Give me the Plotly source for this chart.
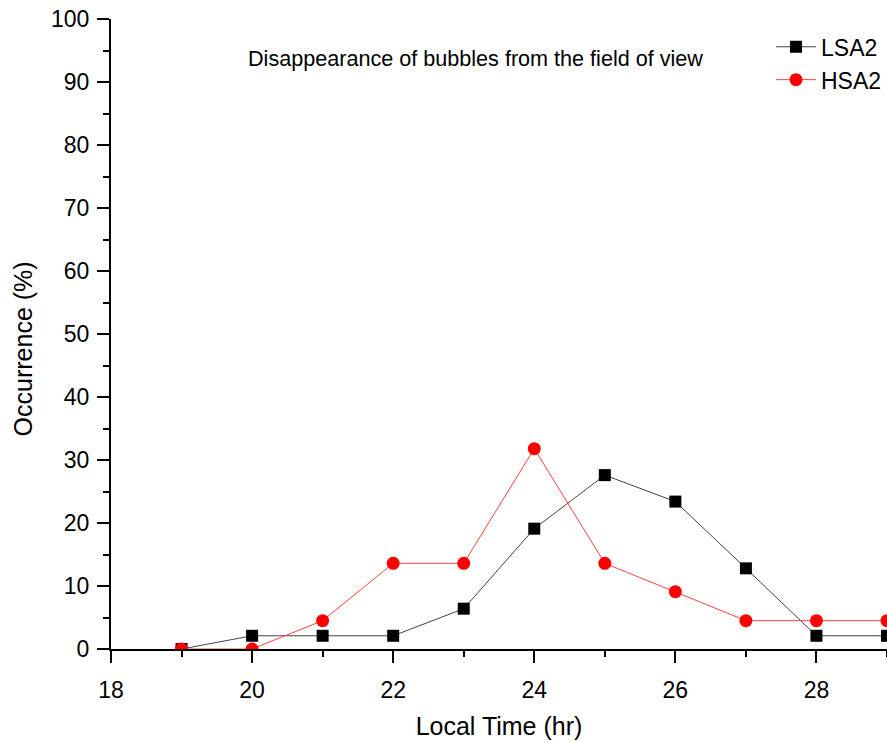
import plotly.graph_objects as go

# ── DATA ──────────────────────────────────────────────
local_time = [19, 20, 21, 22, 23, 24, 25, 26, 27, 28, 29]
lsa2 = [0, 2.1, 2.1, 2.1, 6.4, 19.1, 27.6, 23.4, 12.8, 2.1, 2.1]
hsa2 = [0, 0, 4.5, 13.6, 13.6, 31.8, 13.6, 9.1, 4.5, 4.5, 4.5]

FONT = "Liberation Sans, Arial, sans-serif"

fig = go.Figure()

fig.add_trace(go.Scatter(
    x=local_time, y=lsa2, name="LSA2", mode="lines+markers",
    line=dict(color="#444444", width=1),
    marker=dict(symbol="square", size=12, color="black"),
))
fig.add_trace(go.Scatter(
    x=local_time, y=hsa2, name="HSA2", mode="lines+markers",
    line=dict(color="#ff4040", width=1),
    marker=dict(symbol="circle", size=13, color="red"),
))

fig.add_annotation(
    text="Disappearance of bubbles from the field of view",
    xref="paper", yref="paper", x=0.47, y=0.937,
    xanchor="center", yanchor="middle", showarrow=False,
    font=dict(family=FONT, size=21.6, color="black"),
)

# y title as annotation: sits a little below the plot centre in the original
fig.add_annotation(
    text="Occurrence (%)", textangle=-90,
    xref="paper", yref="paper", x=-0.113, y=0.476,
    xanchor="center", yanchor="middle", showarrow=False,
    font=dict(family=FONT, size=25, color="black"),
)

axis_common = dict(
    showline=True, linecolor="black", linewidth=2,
    ticks="outside", ticklen=12, tickwidth=2, tickcolor="black",
    showgrid=False, zeroline=False, automargin=False,
    tickfont=dict(family=FONT, size=23, color="black"),
)

fig.update_xaxes(
    range=[18, 29], dtick=2, tick0=18,
    minor=dict(ticks="outside", ticklen=6, tickwidth=2, tickcolor="black", dtick=1),
    title=dict(text="Local Time (hr)", font=dict(family=FONT, size=25, color="black"), standoff=16),
    ticklabelstandoff=7,
    **axis_common,
)
fig.update_yaxes(
    range=[0, 100], dtick=10,
    minor=dict(ticks="outside", ticklen=6, tickwidth=2, tickcolor="black", dtick=5),
    ticklabelstandoff=3,
    **axis_common,
)

fig.update_layout(
    width=887, height=742,
    margin=dict(l=111, r=0, t=19, b=93),
    plot_bgcolor="white", paper_bgcolor="white",
    legend=dict(
        x=1.0, y=0.99, xanchor="right", yanchor="top",
        font=dict(family=FONT, size=23, color="black"),
        bgcolor="rgba(0,0,0,0)", itemwidth=40, tracegroupgap=0,
    ),
)

fig.write_html("out.html", config={"displayModeBar": False},
               post_script="document.body.style.margin='0';")
